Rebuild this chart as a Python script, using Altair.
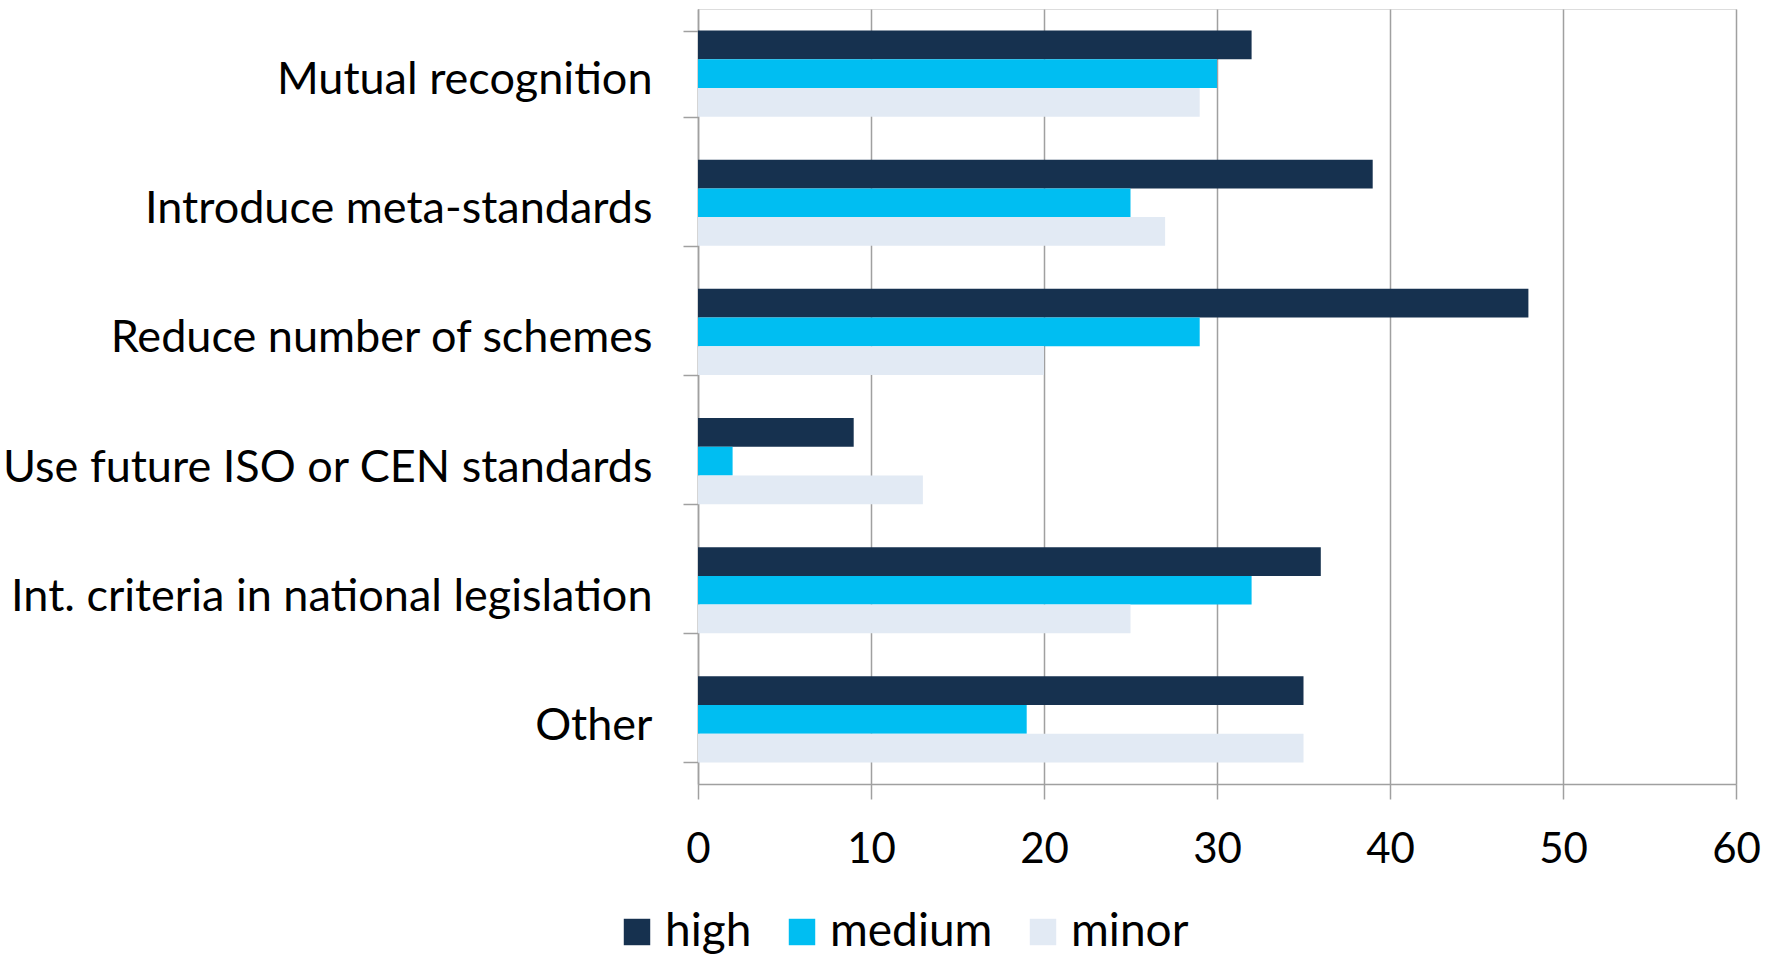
import altair as alt
import pandas as pd

categories = ["Mutual recognition", "Introduce meta-standards", "Reduce number of schemes",
              "Use future ISO or CEN standards", "Int. criteria in national legislation", "Other"]
series = ["high", "medium", "minor"]
high = [32, 39, 48, 9, 36, 35]
medium = [30, 25, 29, 2, 32, 19]
minor = [29, 27, 20, 13, 25, 35]
colors = ["#16314F", "#00BEF2", "#E2EAF4"]
x_ticks = [0, 10, 20, 30, 40, 50, 60]

rows = []
for s, vals in zip(series, [high, medium, minor]):
    for c, v in zip(categories, vals):
        rows.append({"category": c, "level": s, "value": v})
df = pd.DataFrame(rows)

FONT = "Lato"
GRID = "#A0A0A0"

chart = alt.Chart(df).mark_bar().encode(
    y=alt.Y("category:N", sort=categories, title=None,
            scale=alt.Scale(paddingInner=0.333, paddingOuter=0.1667),
            axis=alt.Axis(tickBand="extent", tickSize=15, tickColor=GRID, tickWidth=1.5,
                          domainColor=GRID, domainWidth=1.5, labelFont=FONT, labelFontSize=45,
                          labelColor="black", labelPadding=31, labelLimit=800, grid=False,
                          labelOffset=6)),
    yOffset=alt.YOffset("level:N", sort=series),
    x=alt.X("value:Q", title=None,
            scale=alt.Scale(domain=[0, 60], nice=False),
            axis=alt.Axis(values=x_ticks, tickSize=15, tickColor=GRID, tickWidth=1.5,
                          domainColor=GRID, domainWidth=1.5, gridColor=GRID, gridWidth=1.5,
                          labelFont=FONT, labelFontSize=42, labelColor="black",
                          labelPadding=30, labelFlush=False)),
    color=alt.Color("level:N", sort=series, title=None,
                    scale=alt.Scale(domain=series, range=colors),
                    legend=alt.Legend(orient="none", direction="horizontal",
                                      legendX=-84, legendY=900, padding=0,
                                      symbolType="square", symbolSize=700,
                                      symbolStrokeWidth=0, labelFont=FONT, labelFontSize=46,
                                      labelColor="black", labelOffset=5, columnPadding=27,
                                      labelLimit=400)),
).properties(
    width=1038, height=775,
    autosize=alt.AutoSizeParams(type="none"),
    padding={"left": 698, "top": 9, "right": 37, "bottom": 174},
).configure_view(stroke=None).configure(background="white")

chart.save("out.html", embed_options={"renderer": "svg", "actions": False})
